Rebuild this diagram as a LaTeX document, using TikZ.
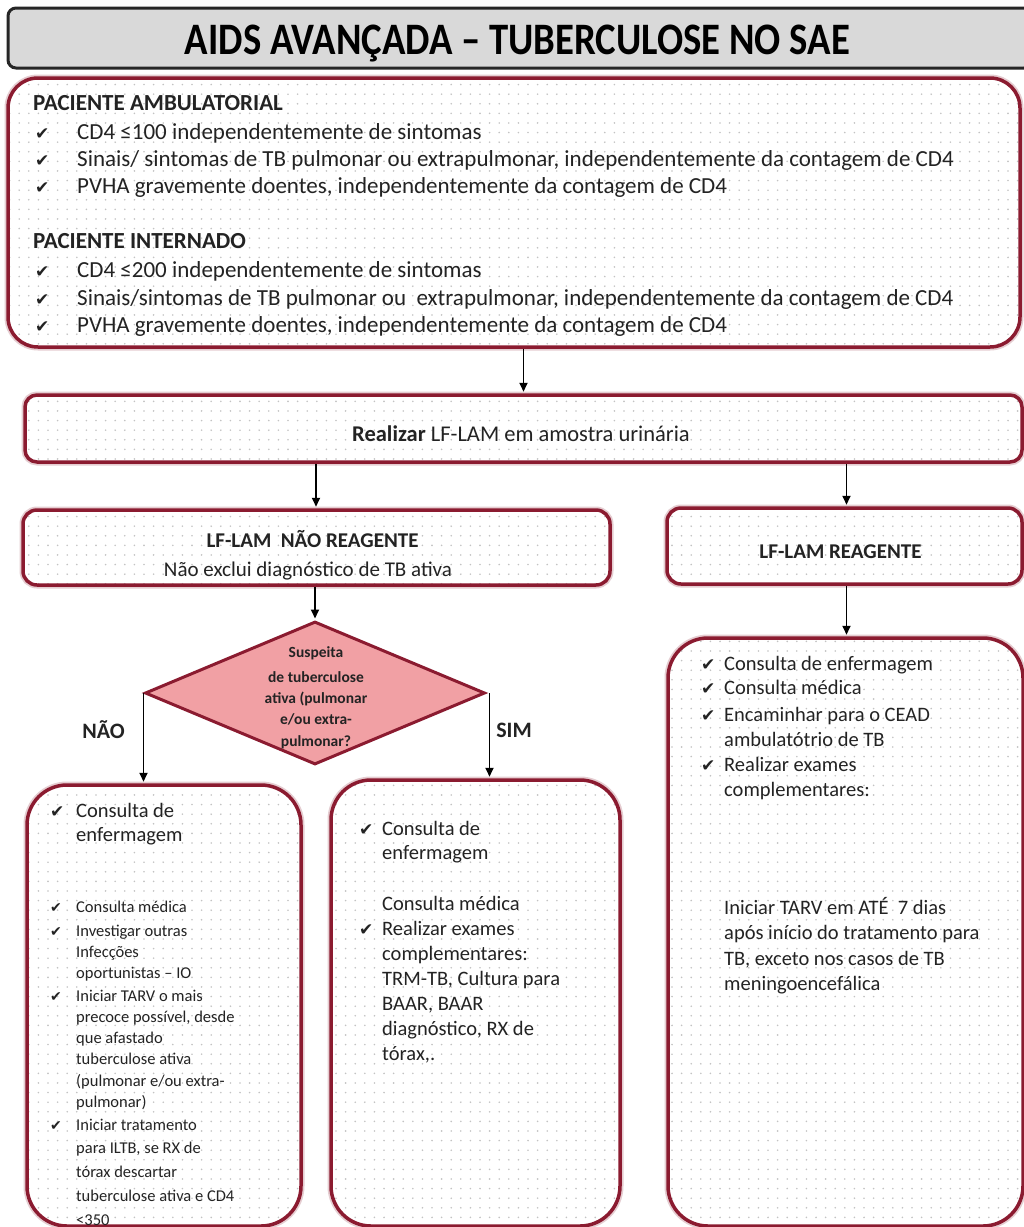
\documentclass[tikz,border=0pt]{standalone}
\usepackage{fontspec}
\usepackage{graphicx}
\setmainfont{Carlito}
\newfontfamily\symf{DejaVu Sans}
\usetikzlibrary{arrows.meta,shapes.geometric,patterns}

\definecolor{maroon}{RGB}{139,27,48}
\definecolor{ink}{RGB}{35,35,35}
\definecolor{dotgray}{RGB}{195,195,195}
\definecolor{rosefill}{RGB}{241,160,164}
\definecolor{titlegray}{RGB}{217,217,217}

% light dot grid used inside the boxes
\pgfdeclarepatternformonly{gdots}{\pgfqpoint{-1pt}{-1pt}}{\pgfqpoint{1pt}{1pt}}{\pgfqpoint{9.6pt}{9.6pt}}%
  {\pgfpathcircle{\pgfpointorigin}{0.9pt}\pgfusepath{fill}}

\begin{document}
\begin{tikzpicture}[x=1pt,y=-1pt,
  box/.style={draw=maroon, line width=3.5pt, inner sep=0pt,
    preaction={draw=maroon!22, line width=7pt},
    preaction={fill=white},
    pattern=gdots, pattern color=dotgray},
  arr/.style={draw=black, line width=1.8pt, -{Triangle[length=9pt,width=8pt]}, shorten >=1.5pt},
  big/.style={anchor=base west, inner sep=0pt, text=ink, font=\fontsize{23}{27}\selectfont},
  mid/.style={anchor=base west, inner sep=0pt, text=ink, font=\fontsize{20.5}{24}\selectfont},
  sml/.style={anchor=base west, inner sep=0pt, text=ink, font=\fontsize{16.5}{20}\selectfont},
  ck/.style={anchor=base west, inner sep=0pt, text=ink, font=\symf\fontsize{17}{20}\selectfont},
  cks/.style={anchor=base west, inner sep=0pt, text=ink, font=\symf\fontsize{14}{17}\selectfont},
  lbl/.style={anchor=base, inner sep=0pt, text=ink, font=\fontsize{22}{26}\selectfont\bfseries},
  dtxt/.style={anchor=base, inner sep=0pt, text=ink, font=\fontsize{15.5}{18}\selectfont\bfseries}]

\useasboundingbox (0,0) rectangle (1024,1227);
\fill[white] (0,0) rectangle (1024,1227);

% ---------- title ----------
\node[draw=black!85, fill=titlegray, line width=3pt, rounded corners=8pt,
      minimum width=1024pt, minimum height=60pt, inner sep=0pt] (title) at (520,38) {};
\node[anchor=base, inner sep=0pt, text=black] (titletxt) at (517.5,54)
  {\resizebox{665pt}{\height}{\fontsize{45}{50}\selectfont\bfseries AIDS AVANÇADA – TUBERCULOSE NO SAE}};

% ---------- boxes ----------
\node[box, rounded corners=30pt, minimum width=1012pt, minimum height=269pt] (crit) at (514,212.5) {};
\node[box, rounded corners=12pt, minimum width=997pt, minimum height=67pt] (real) at (523.5,428.5) {};
\node[box, rounded corners=14pt, minimum width=587pt, minimum height=75pt] (nao) at (316.5,547.5) {};
\node[box, rounded corners=14pt, minimum width=355pt, minimum height=76pt] (reag) at (844.5,546) {};
\node[diamond, draw=maroon, line width=3pt, fill=rosefill, inner sep=0pt,
      minimum width=340pt, minimum height=143pt] (dia) at (315,693) {};
\node[box, rounded corners=40pt, minimum width=274pt, minimum height=441pt] (lbox) at (164,1005.5) {};
\node[box, rounded corners=40pt, minimum width=289pt, minimum height=446pt] (mbox) at (475.5,1003) {};
\node[box, rounded corners=40pt, minimum width=355pt, minimum height=588pt] (rbox) at (845.5,932) {};

% ---------- connectors ----------
\draw[arr] (crit.south -| real.north) -- (real.north);
\draw[arr] ([xshift=-0.5pt]real.south -| nao.north) -- ([xshift=-0.5pt]nao.north);
\draw[arr] ([xshift=2pt]real.south -| reag.north) -- ([xshift=2pt]reag.north);
\draw[arr] (nao.south -| dia.north) -- (dia.north);
\draw[arr] (dia.west) -- (dia.west |- lbox.north);
\draw[arr] ([xshift=3pt]dia.east) -- ([xshift=3pt]dia.east |- mbox.north);
\draw[arr] ([xshift=2pt]reag.south) -- ([xshift=2pt]reag.south |- rbox.north);

\node[lbl] (lno) at (103.5,738) {NÃO};
\node[lbl] (lyes) at (514,737) {SIM};

% ---------- criteria ----------
\node[big, font=\fontsize{23}{27}\selectfont\bfseries] (h1) at (33,110) {PACIENTE AMBULATORIAL};
\node[ck] (k1) at (35,139) {✔};
\node[big] (a1) at (77,139) {CD4 ≤100 independentemente de sintomas};
\node[ck] (k2) at (35,166) {✔};
\node[big] (a2) at (77,166) {Sinais/ sintomas de TB pulmonar ou extrapulmonar, independentemente da contagem de CD4};
\node[ck] (k3) at (35,193) {✔};
\node[big] (a3) at (77,193) {PVHA gravemente doentes, independentemente da contagem de CD4};
\node[big, font=\fontsize{23}{27}\selectfont\bfseries] (h2) at (33,248) {PACIENTE INTERNADO};
\node[ck] (k4) at (35,277) {✔};
\node[big] (b1) at (77,277) {CD4 ≤200 independentemente de sintomas};
\node[ck] (k5) at (35,305) {✔};
\node[big] (b2) at (77,305) {Sinais/sintomas de TB pulmonar ou \ extrapulmonar, independentemente da contagem de CD4};
\node[ck] (k6) at (35,332) {✔};
\node[big] (b3) at (77,332) {PVHA gravemente doentes, independentemente da contagem de CD4};

% ---------- LF-LAM ----------
\node[anchor=base, inner sep=0pt, text=ink, font=\fontsize{22.5}{27}\selectfont] (realtxt) at (521,441)
  {\textbf{Realizar} LF-LAM em amostra urinária};
\node[anchor=base, inner sep=0pt, text=ink, font=\fontsize{21}{25}\selectfont\bfseries] (naotxt) at (312.5,547)
  {LF-LAM \ NÃO REAGENTE};
\node[anchor=base, inner sep=0pt, text=ink, font=\fontsize{21}{25}\selectfont] (naosub) at (308,576)
  {Não exclui diagnóstico de TB ativa};
\node[anchor=base, inner sep=0pt, text=ink, font=\fontsize{21}{25}\selectfont\bfseries] (reagtxt) at (840.5,558)
  {LF-LAM REAGENTE};

% ---------- decision ----------
\node[dtxt] (d1) at (316,657) {Suspeita};
\node[dtxt] (d2) at (316,682) {de tuberculose};
\node[dtxt] (d3) at (316,703) {ativa (pulmonar};
\node[dtxt] (d4) at (316,724) {e/ou extra-};
\node[dtxt] (d5) at (316,746) {pulmonar?};

% ---------- left branch ----------
\node[ck] (lk1) at (50,817) {✔};
\node[mid] (l1) at (76,817) {Consulta de};
\node[mid] (l2) at (76,841) {enfermagem};
\node[cks] (lk2) at (50,912) {✔};
\node[sml] (l3) at (76,912) {Consulta médica};
\node[cks] (lk3) at (50,936) {✔};
\node[sml] (l4) at (76,936) {Investigar outras};
\node[sml] (l5) at (76,957) {Infecções};
\node[sml] (l6) at (76,978) {oportunistas – IO};
\node[cks] (lk4) at (50,1001) {✔};
\node[sml] (l7) at (76,1001) {Iniciar TARV o mais};
\node[sml] (l8) at (76,1022) {precoce possível, desde};
\node[sml] (l9) at (76,1043) {que afastado};
\node[sml] (l10) at (76,1064) {tuberculose ativa};
\node[sml] (l11) at (76,1086) {(pulmonar e/ou extra-};
\node[sml] (l12) at (76,1107) {pulmonar)};
\node[cks] (lk5) at (50,1130) {✔};
\node[sml] (l13) at (76,1130) {Iniciar tratamento};
\node[sml] (l14) at (76,1153) {para ILTB, se RX de};
\node[sml] (l15) at (76,1177) {tórax descartar};
\node[sml] (l16) at (76,1201) {tuberculose ativa e CD4};
\node[sml] (l17) at (76,1225) {<350};

% ---------- middle branch ----------
\node[ck] (mk1) at (359,835) {✔};
\node[mid] (m1) at (382,835) {Consulta de};
\node[mid] (m2) at (382,859) {enfermagem};
\node[mid] (m3) at (382,910) {Consulta médica};
\node[ck] (mk2) at (359,935) {✔};
\node[mid] (m4) at (382,935) {Realizar exames};
\node[mid] (m5) at (382,960) {complementares:};
\node[mid] (m6) at (382,985) {TRM-TB, Cultura para};
\node[mid] (m7) at (382,1010) {BAAR, BAAR};
\node[mid] (m8) at (382,1035) {diagnóstico, RX de};
\node[mid] (m9) at (382,1060) {tórax,.};

% ---------- right branch ----------
\node[ck] (rk1) at (701,670) {✔};
\node[mid] (r1) at (724,670) {Consulta de enfermagem};
\node[ck] (rk2) at (701,694) {✔};
\node[mid] (r2) at (724,694) {Consulta médica};
\node[ck] (rk3) at (701,721) {✔};
\node[mid] (r3) at (724,721) {Encaminhar para o CEAD};
\node[mid] (r4) at (724,746) {ambulatótrio de TB};
\node[ck] (rk4) at (701,771) {✔};
\node[mid] (r5) at (724,771) {Realizar exames};
\node[mid] (r6) at (724,796) {complementares:};
\node[mid] (r7) at (724,914) {Iniciar TARV em ATÉ \ 7 dias};
\node[mid] (r8) at (724,939) {após início do tratamento para};
\node[mid] (r9) at (724,965) {TB, exceto nos casos de TB};
\node[mid] (r10) at (724,990) {meningoencefálica};
\end{tikzpicture}
\end{document}
